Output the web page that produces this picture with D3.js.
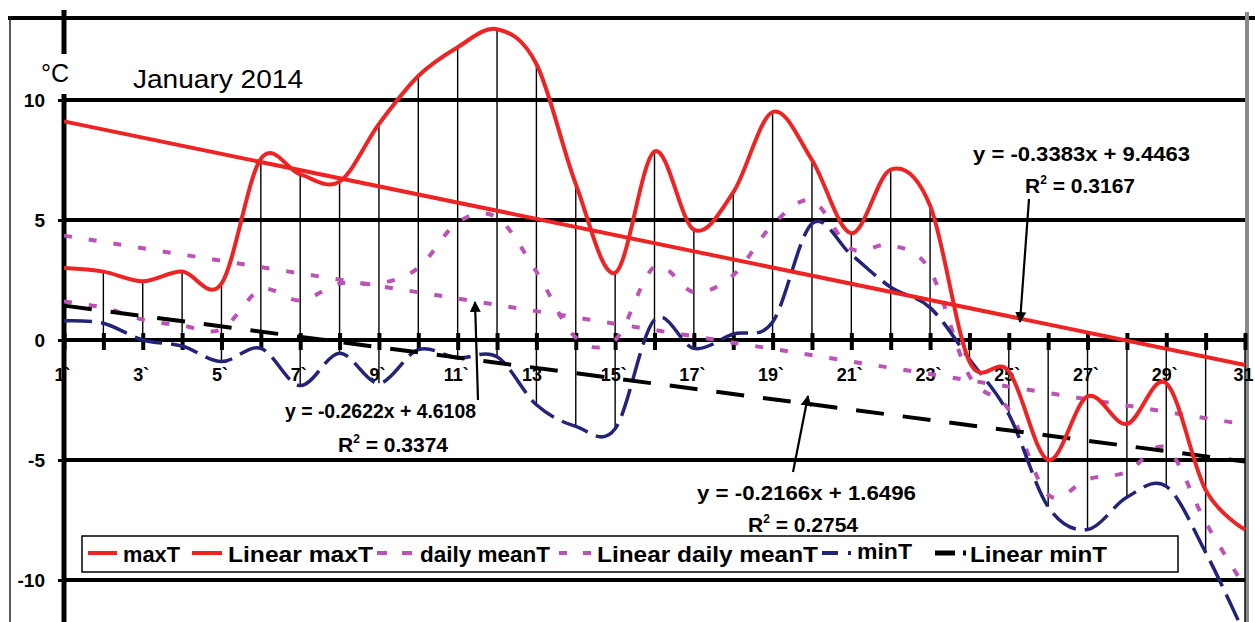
<!DOCTYPE html>
<html>
<head>
<meta charset="utf-8">
<script src="https://cdn.jsdelivr.net/npm/d3@7"></script>
<style>
  html, body { margin: 0; padding: 0; background: #fff; }
  svg { display: block; font-family: Arial, "Liberation Sans", sans-serif; }
</style>
</head>
<body>
<div id="chart"></div>
<script>
// daily values, January 2014
var days = [1,2,3,4,5,6,7,8,9,10,11,12,13,14,15,16,17,18,19,20,21,22,23,24,25,26,27,28,29,30,31];
var maxT = [3.0,2.85,2.45,2.85,2.35,7.55,6.9,6.6,9.0,11.0,12.2,12.95,11.5,6.5,2.8,7.85,4.6,6.15,9.5,7.5,4.45,7.1,5.6,-0.9,-1.3,-5.0,-2.35,-3.5,-1.8,-6.25,-7.9];
var meanT = [1.6,1.35,0.85,0.6,0.45,2.1,1.65,2.35,2.35,3.0,4.9,5.1,2.85,0.1,0.0,3.05,2.0,2.7,4.8,5.8,3.8,3.95,2.9,-1.5,-2.9,-6.45,-5.8,-5.5,-4.5,-7.6,-10.3];
var minT = [0.8,0.7,0.0,-0.25,-0.9,-0.35,-1.9,-0.55,-1.8,-0.4,-0.75,-0.7,-2.7,-3.6,-3.7,0.85,-0.35,0.25,0.75,4.85,3.55,2.2,1.35,-0.8,-3.1,-6.95,-7.9,-6.55,-6.1,-8.85,-12.3];

// linear trend lines as printed on the chart: maxT, daily meanT, minT
var trendSlope = [-0.3383, -0.2622, -0.2166];
var trendIntercept = [9.4463, 4.6108, 1.6496];
var trendR2 = ["0.3167", "0.3374", "0.2754"];

var yTicks = [-10, -5, 0, 5, 10];
var xLabels = ["1`","","3`","","5`","","7`","","9`","","11`","","13`","","15`","","17`","","19`","","21`","","23`","","25`","","27`","","29`","","31"];
var legendLabels = ["maxT", "Linear maxT", "daily meanT", "Linear daily meanT", "minT", "Linear minT"];

var W = 1255, H = 622;
var red = "#ee2424", purple = "#bd52b6", navy = "#23237a";

var svg = d3.select("#chart").append("svg")
    .attr("width", W)
    .attr("height", H);

var x = d3.scaleLinear().domain([1, 31]).range([64, 1245]);
var y = d3.scaleLinear().domain([-10, 10]).range([580, 100]);

// frame
svg.append("line").attr("x1", 8).attr("x2", W).attr("y1", 18).attr("y2", 18)
    .attr("stroke", "#000").attr("stroke-width", 4);
svg.append("line").attr("x1", 10).attr("x2", 10).attr("y1", 16).attr("y2", H)
    .attr("stroke", "#222").attr("stroke-width", 1.5);

// horizontal gridlines
svg.append("g").selectAll("line")
    .data(yTicks.filter(function(d){ return d !== 0; }))
    .enter().append("line")
    .attr("x1", x(1)).attr("x2", x(31))
    .attr("y1", function(d){ return y(d); })
    .attr("y2", function(d){ return y(d); })
    .attr("stroke", "#000").attr("stroke-width", 4);

// right border
svg.append("line").attr("x1", 1247).attr("x2", 1247).attr("y1", 12).attr("y2", H)
    .attr("stroke", "#8a8a8a").attr("stroke-width", 4);

// drop lines from the axis to the day's extremes
svg.append("g").selectAll("line")
    .data(days)
    .enter().append("line")
    .attr("x1", function(d){ return x(d); })
    .attr("x2", function(d){ return x(d); })
    .attr("y1", function(d, i){ return y(Math.max(0, maxT[i], minT[i])); })
    .attr("y2", function(d, i){ return y(Math.min(0, maxT[i], minT[i])); })
    .attr("stroke", "#000").attr("stroke-width", 1.4);

// x axis
var xAxis = d3.axisBottom(x)
    .tickValues(days)
    .tickSize(10)
    .tickPadding(18)
    .tickFormat(function(d, i){ return xLabels[i]; });

var gx = svg.append("g")
    .attr("transform", "translate(0," + y(0) + ")")
    .call(xAxis);
gx.select(".domain").attr("stroke-width", 4).attr("d", "M" + x(1) + ",0H" + 1247);
gx.selectAll(".tick line").attr("y1", -7).attr("stroke-width", 4);
gx.selectAll(".tick text")
    .attr("font-size", 18).attr("font-weight", "bold")
    .attr("font-family", "Arial, 'Liberation Sans', sans-serif")
    .attr("dx", -2)
    .attr("fill", "#000");

// y axis
var yAxis = d3.axisLeft(y)
    .tickValues(yTicks)
    .tickSize(6)
    .tickPadding(13)
    .tickFormat(function(d){ return String(d); });

var gy = svg.append("g")
    .attr("transform", "translate(" + x(1) + ",0)")
    .call(yAxis);
gy.select(".domain").remove();
gy.selectAll(".tick line").attr("stroke-width", 3);
gy.selectAll(".tick text")
    .attr("font-size", 19).attr("font-weight", "bold")
    .attr("font-family", "Arial, 'Liberation Sans', sans-serif")
    .attr("fill", "#000");

svg.append("line").attr("x1", x(1)).attr("x2", x(1)).attr("y1", 10).attr("y2", H)
    .attr("stroke", "#000").attr("stroke-width", 5);

// series
var smooth = d3.line()
    .x(function(d){ return x(d[0]); })
    .y(function(d){ return y(d[1]); })
    .curve(d3.curveCardinal.tension(0));

function pairs(vals) { return days.map(function(d, i){ return [d, vals[i]]; }); }
function trend(k) {
    return [1, 31].map(function(d){ return [d, trendSlope[k] * d + trendIntercept[k]]; });
}
var straight = d3.line()
    .x(function(d){ return x(d[0]); })
    .y(function(d){ return y(d[1]); });

var plot = svg.append("g").attr("fill", "none");

plot.append("path").attr("d", smooth(pairs(meanT)))
    .attr("stroke", purple).attr("stroke-width", 4).attr("stroke-dasharray", "8,17");
plot.append("path").attr("d", straight(trend(1)))
    .attr("stroke", purple).attr("stroke-width", 4).attr("stroke-dasharray", "8,17");
plot.append("path").attr("d", smooth(pairs(minT)))
    .attr("stroke", navy).attr("stroke-width", 3.5).attr("stroke-dasharray", "28,9");
plot.append("path").attr("d", straight(trend(2)))
    .attr("stroke", "#000").attr("stroke-width", 4).attr("stroke-dasharray", "28,19");
plot.append("path").attr("d", straight(trend(0)))
    .attr("stroke", red).attr("stroke-width", 4);
plot.append("path").attr("d", smooth(pairs(maxT)))
    .attr("stroke", red).attr("stroke-width", 4);

// titles
svg.append("rect").attr("x", 40).attr("y", 54).attr("width", 36).attr("height", 40).attr("fill", "#fff");
svg.append("text").attr("x", 41).attr("y", 82).attr("font-size", 25).text("\u00B0C");
svg.append("text").attr("x", 133).attr("y", 88).attr("font-size", 25)
    .attr("textLength", 170).attr("lengthAdjust", "spacingAndGlyphs").text("January 2014");

// trend equations with arrows
svg.append("defs").append("marker")
    .attr("id", "head").attr("viewBox", "0 0 10 10")
    .attr("refX", 9).attr("refY", 5)
    .attr("markerWidth", 5).attr("markerHeight", 6)
    .attr("markerUnits", "strokeWidth")
    .attr("orient", "auto")
    .append("path").attr("d", "M0,0L10,5L0,10Z").attr("fill", "#000");

var eqPos = [
    { x: 973, y: 161, w: 217, rx: 1025, ry: 193, a: [1029, 199, 1020, 322] },
    { x: 285, y: 418, w: 191, rx: 338, ry: 452, a: [478, 400, 475, 302] },
    { x: 697, y: 500, w: 219, rx: 748, ry: 532, a: [793, 472, 808, 396] }
];

eqPos.forEach(function(p, k) {
    var sign = trendIntercept[k] >= 0 ? " + " : " - ";
    svg.append("text").attr("x", p.x).attr("y", p.y)
        .attr("font-size", 21).attr("font-weight", "bold")
        .attr("textLength", p.w).attr("lengthAdjust", "spacingAndGlyphs")
        .text("y = " + trendSlope[k].toFixed(4) + "x" + sign + Math.abs(trendIntercept[k]).toFixed(4));
    var r = svg.append("text").attr("x", p.rx).attr("y", p.ry)
        .attr("font-size", 21).attr("font-weight", "bold");
    r.append("tspan").text("R");
    r.append("tspan").attr("dy", -9).attr("font-size", 12).text("2");
    r.append("tspan").attr("dy", 9).text(" = " + trendR2[k]);
    svg.append("line")
        .attr("x1", p.a[0]).attr("y1", p.a[1]).attr("x2", p.a[2]).attr("y2", p.a[3])
        .attr("stroke", "#000").attr("stroke-width", 2.2)
        .attr("marker-end", "url(#head)");
});

// legend
var lg = svg.append("g");
lg.append("rect").attr("x", 82).attr("y", 536).attr("width", 1096).attr("height", 36)
    .attr("fill", "#fff").attr("stroke", "#000").attr("stroke-width", 1.5);

var legendStyle = [
    { c: red, w: 4, dash: null, s: [88, 117], t: 123, tw: 57 },
    { c: red, w: 4, dash: null, s: [192, 222], t: 228, tw: 145 },
    { c: purple, w: 4, dash: "10,15", s: [377, 412], t: 420, tw: 130 },
    { c: purple, w: 4, dash: "8,16", s: [559, 591], t: 597, tw: 221 },
    { c: navy, w: 4, dash: "16,10,3,60", s: [822, 851], t: 857, tw: 55, dy: -3 },
    { c: "#000", w: 5, dash: "20,8,3,60", s: [935, 966], t: 970, tw: 137 }
];

legendLabels.forEach(function(name, i) {
    var st = legendStyle[i];
    lg.append("line")
        .attr("x1", st.s[0]).attr("x2", st.s[1]).attr("y1", 553).attr("y2", 553)
        .attr("stroke", st.c).attr("stroke-width", st.w)
        .attr("stroke-dasharray", st.dash);
    lg.append("text").attr("x", st.t).attr("y", 562 + (st.dy || 0))
        .attr("font-size", 22).attr("font-weight", "bold")
        .attr("textLength", st.tw).attr("lengthAdjust", "spacingAndGlyphs")
        .text(name);
});
</script>
</body>
</html>
